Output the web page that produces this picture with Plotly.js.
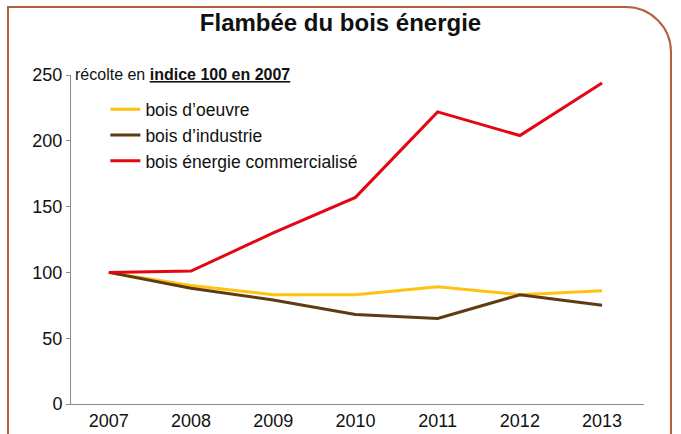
<!DOCTYPE html>
<html>
<head>
<meta charset="utf-8">
<script src="https://cdn.plot.ly/plotly-3.0.1.min.js"></script>
<style>
html,body{margin:0;padding:0;background:#fff;}
#frame{position:absolute;left:7px;top:6px;width:665px;height:460px;border:2px solid #b3603c;border-top-right-radius:46px;box-sizing:border-box;}
#chart{position:absolute;left:0;top:0;width:681px;height:434px;}
</style>
</head>
<body>
<div id="frame"></div>
<div id="chart"></div>
<script>
const years = ["2007","2008","2009","2010","2011","2012","2013"];
const boisOeuvre = [100, 90, 83, 83, 89, 83, 86];
const boisIndustrie = [100, 88, 79, 68, 65, 83, 75];
const boisEnergie = [100, 101, 130, 157, 222, 204, 244];
const seriesNames = ["bois d’oeuvre", "bois d’industrie", "bois énergie commercialisé"];

const xIdx = years.map((y, i) => i);
const font = "'Liberation Sans', Arial, sans-serif";

const traces = [
  {x: xIdx, y: boisOeuvre, name: seriesNames[0], legendgroup: "a", line: {color: "#FFC20E", width: 3}},
  {x: xIdx, y: boisIndustrie, name: seriesNames[1], legendgroup: "b", line: {color: "#5E3B12", width: 3}},
  {x: xIdx, y: boisEnergie, name: seriesNames[2], legendgroup: "c", line: {color: "#E30613", width: 3}}
].map(t => Object.assign({type: "scatter", mode: "lines"}, t));

const layout = {
  width: 681, height: 434,
  paper_bgcolor: "rgba(0,0,0,0)",
  plot_bgcolor: "rgba(0,0,0,0)",
  margin: {l: 71, r: 37, t: 75, b: 30},
  font: {family: font, color: "#111"},
  title: {text: "<b>Flambée du bois énergie</b>", font: {size: 24, family: font, color: "#111"}, x: 0.5, xanchor: "center", xref: "container", y: 0.948, yanchor: "middle"},
  xaxis: {
    range: [-0.46, 6.51], tickvals: xIdx, ticktext: years,
    showline: true, linecolor: "#8a8a8a", linewidth: 1,
    showgrid: false, zeroline: false, ticks: "",
    tickfont: {size: 18, family: font, color: "#111"}
  },
  yaxis: {
    range: [0, 250], tickvals: [0, 50, 100, 150, 200, 250],
    showline: true, linecolor: "#8a8a8a", linewidth: 1,
    showgrid: false, zeroline: false, ticks: "outside", ticklen: 4, tickcolor: "#8a8a8a",
    tickfont: {size: 18, family: font, color: "#111"}
  },
  showlegend: true,
  legend: {x: 0.06, y: 0.95, xanchor: "left", yanchor: "top", bgcolor: "rgba(0,0,0,0)",
    font: {size: 17.5, family: font, color: "#111"}, tracegroupgap: 0, traceorder: "grouped", itemwidth: 30},
  annotations: [{
    xref: "paper", yref: "paper", x: 0.0, y: 1.0, xanchor: "left", yanchor: "middle", showarrow: false,
    xshift: 2, yshift: 1,
    text: "récolte en <b><u>indice 100 en 2007</u></b>", font: {size: 16, family: font, color: "#111"}
  }]
};

Plotly.newPlot("chart", traces, layout, {displayModeBar: false, staticPlot: true});
</script>
</body>
</html>
